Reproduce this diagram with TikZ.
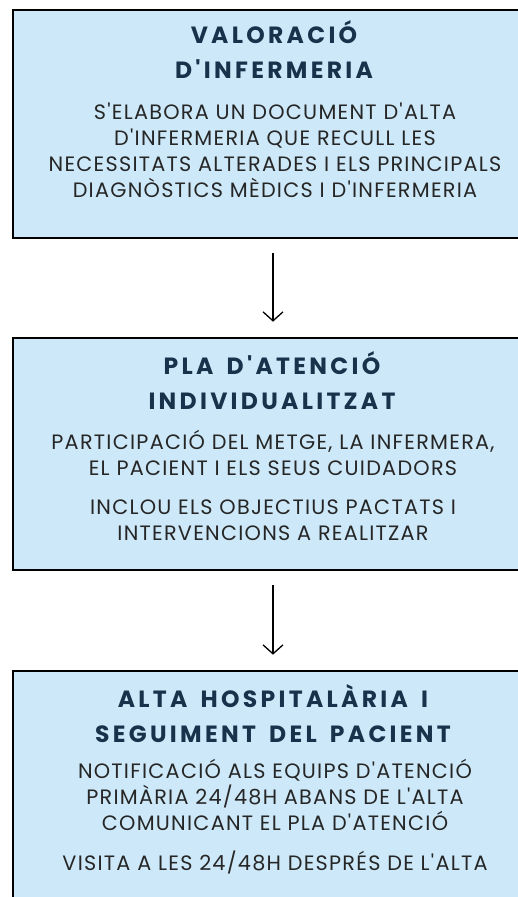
\documentclass[tikz,border=0pt]{standalone}
\usepackage{fontspec}
\setmainfont{Poppins}
\newfontfamily\titlefont[LetterSpace=14,WordSpace=1.6]{Poppins}
\newfontfamily\bodyfont[LetterSpace=6]{Poppins}
\usetikzlibrary{arrows.meta,positioning}
\definecolor{boxblue}{HTML}{CDE9F9}
\definecolor{navy}{HTML}{17324A}
\tikzset{
  box/.style={draw=black,line width=2.6pt,fill=boxblue,minimum width=520pt,inner sep=0pt},
  ttl/.style={align=center,inner sep=0pt,anchor=north,text=navy,
    font=\titlefont\bfseries\fontsize{23.5}{35}\selectfont},
  txt/.style={align=center,inner sep=0pt,anchor=north,text=black!85,
    font=\bodyfont\fontsize{20.8}{26}\selectfont},
  arr/.style={-{Straight Barb[length=9pt,width=20pt]},line width=1.3pt,
    shorten <=14pt,shorten >=15pt}
}

\begin{document}
\begin{tikzpicture}[x=1pt,y=-1pt]
  \useasboundingbox (0,0) rectangle (518,897);
  % boxes
  \node[box,minimum height=228pt] (val) at (273,124) {};
  \node[box,minimum height=232pt] (pla) at (273,454) {};
  \node[box,minimum height=250pt] (alta) at (273,796) {};
  % titles and texts
  \node[ttl] (valt) at (274,20) {VALORACIÓ\\D'INFERMERIA};
  \node[txt] (valx) at (275,103) {S'ELABORA UN DOCUMENT D'ALTA\\D'INFERMERIA QUE RECULL LES\\NECESSITATS ALTERADES I ELS PRINCIPALS\\DIAGNÒSTICS MÈDICS I D'INFERMERIA};
  \node[ttl] (plat) at (272,351) {PLA D'ATENCIÓ\\INDIVIDUALITZAT};
  \node[txt] (plax) at (273,430) {PARTICIPACIÓ DEL METGE, LA INFERMERA,\\EL PACIENT I ELS SEUS CUIDADORS\\[13pt]INCLOU ELS OBJECTIUS PACTATS I\\INTERVENCIONS A REALITZAR};
  \node[ttl] (altat) at (273,684) {ALTA HOSPITALÀRIA I\\SEGUIMENT DEL PACIENT};
  \node[txt] (altax) at (275,759) {NOTIFICACIÓ ALS EQUIPS D'ATENCIÓ\\PRIMÀRIA 24/48H ABANS DE L'ALTA\\COMUNICANT EL PLA D'ATENCIÓ\\[14pt]VISITA A LES 24/48H DESPRÉS DE L'ALTA};
  % arrows
  \draw[arr] (val) -- (pla);
  \draw[arr] (pla) -- (alta);
\end{tikzpicture}
\end{document}
